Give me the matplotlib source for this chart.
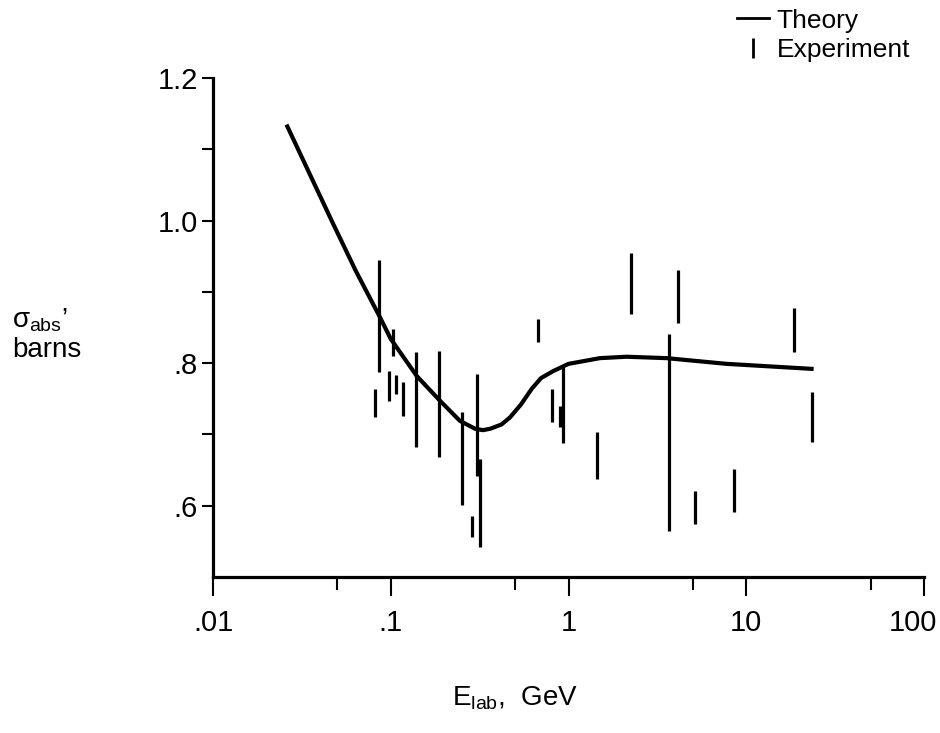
import matplotlib
matplotlib.use("Agg")
import matplotlib.pyplot as plt
import matplotlib.transforms as mtransforms
from matplotlib.lines import Line2D

plt.rcParams['font.family'] = ['Liberation Sans', 'DejaVu Sans']
plt.rcParams['mathtext.fontset'] = 'custom'
plt.rcParams['mathtext.rm'] = 'Liberation Sans'
plt.rcParams['mathtext.it'] = 'Liberation Sans'

# theory curve
theory_e = [0.0262, 0.0352, 0.0473, 0.0637, 0.0863, 0.1, 0.14, 0.188, 0.245,
            0.298, 0.33, 0.363, 0.42, 0.469, 0.54, 0.621, 0.70, 0.822, 1.0,
            1.5, 2.12, 3.57, 7.76, 23.3]
theory_sigma = [1.132, 1.064, 0.996, 0.929, 0.866, 0.834, 0.782, 0.748, 0.719,
                0.708, 0.706, 0.708, 0.714, 0.724, 0.742, 0.764, 0.779, 0.789,
                0.799, 0.807, 0.809, 0.807, 0.799, 0.792]

# experiment bars: energy, low, high
exp_e = [0.0815, 0.0863, 0.0982, 0.1026, 0.107, 0.1177, 0.138, 0.1876,
         0.2518, 0.285, 0.305, 0.316, 0.671, 0.804, 0.895, 0.935, 1.44,
         2.25, 3.68, 4.11, 5.15, 8.57, 18.6, 23.5]
exp_lo = [0.724, 0.787, 0.747, 0.810, 0.757, 0.726, 0.682, 0.668,
          0.601, 0.556, 0.642, 0.542, 0.830, 0.718, 0.710, 0.688, 0.638,
          0.869, 0.564, 0.857, 0.575, 0.591, 0.815, 0.690]
exp_hi = [0.764, 0.945, 0.789, 0.848, 0.783, 0.773, 0.816, 0.817,
          0.731, 0.586, 0.785, 0.666, 0.862, 0.764, 0.740, 0.794, 0.704,
          0.954, 0.841, 0.931, 0.621, 0.652, 0.878, 0.759]

x_ticks = [0.01, 0.1, 1, 10, 100]
x_labels = ['.01', '.1', '1', '10', '100']
x_minor = [0.05, 0.5, 5, 50]
y_ticks = [0.6, 0.8, 1.0, 1.2]
y_labels = ['.6', '.8', '1.0', '1.2']
y_minor = [0.7, 0.9, 1.1]

fig = plt.figure(figsize=(9.4, 7.33), dpi=100)
ax = fig.add_axes([0.2266, 0.2128, 0.7564, 0.6808])

ax.plot(theory_e, theory_sigma, color='black', lw=3, solid_joinstyle='round')
ax.vlines(exp_e, exp_lo, exp_hi, color='black', lw=2.3)

ax.set_xscale('log')
ax.set_xlim(0.01, 100)
ax.set_ylim(0.5, 1.2)

ax.set_xticks(x_ticks)
ax.set_xticklabels(x_labels)
ax.set_xticks(x_minor, minor=True)
ax.set_yticks(y_ticks)
ax.set_yticklabels(y_labels)
ax.set_yticks(y_minor, minor=True)

for s in ['top', 'right']:
    ax.spines[s].set_visible(False)
for s in ['left', 'bottom']:
    ax.spines[s].set_linewidth(2.3)

ax.tick_params(axis='x', which='major', direction='out', length=14, width=1.5,
               pad=9, labelsize=21)
ax.tick_params(axis='x', which='minor', direction='out', length=9, width=1.5)
ax.tick_params(axis='y', which='both', direction='out', length=8, width=1.5,
               pad=3, labelsize=21)

# the last x label sits a little left of its tick, as in the original
last = ax.get_xticklabels()[-1]
last.set_transform(last.get_transform() +
                   mtransforms.ScaledTranslation(-11 / 100, 0, fig.dpi_scale_trans))

ax.set_xlabel(r'E$_{\mathrm{lab}}$,  GeV', fontsize=20)
ax.xaxis.set_label_coords(0.425, -0.215)
ax.set_ylabel('$\\sigma_{\\mathrm{abs}}$\u2019\nbarns', fontsize=20,
              rotation=0, ha='left', va='center', linespacing=1.15)
ax.yaxis.set_label_coords(-0.283, 0.485)

handles = [Line2D([], [], color='black', lw=2),
           Line2D([], [], color='black', marker='|', linestyle='None',
                  markersize=14, markeredgewidth=2)]
fig.legend(handles, ['Theory', 'Experiment'], loc='upper right',
           bbox_to_anchor=(0.985, 1.01), frameon=False, fontsize=19,
           handlelength=1.2, handletextpad=0.3, labelspacing=0.2,
           borderaxespad=0.2)

fig.savefig('out.png', dpi=100)
